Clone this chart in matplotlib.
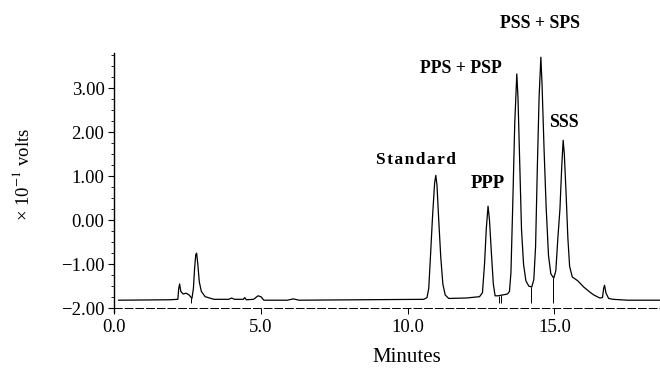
import numpy as np
import matplotlib
matplotlib.use("Agg")
import matplotlib.pyplot as plt
from matplotlib.ticker import FixedLocator, FuncFormatter

# chromatogram trace: time (min) and signal (x 10^-1 V)
time_min = [0.15, 1.9, 2.17, 2.20, 2.23, 2.27, 2.35, 2.45, 2.55, 2.65, 2.70,
            2.74, 2.78, 2.81, 2.85, 2.90, 2.97, 3.10, 3.4, 3.9, 4.0, 4.1, 4.4,
            4.45, 4.5, 4.75, 4.9, 5.0, 5.1, 5.9, 6.1, 6.3,
            10.55, 10.66, 10.72, 10.78, 10.85, 10.92, 10.96, 11.00, 11.06,
            11.13, 11.20, 11.28, 11.40, 12.0, 12.45, 12.55, 12.62, 12.68, 12.74,
            12.79, 12.85, 12.92, 12.98, 13.08, 13.4, 13.47, 13.52, 13.58, 13.65,
            13.72, 13.76, 13.82, 13.88, 13.95, 14.03, 14.13, 14.23, 14.30, 14.36,
            14.42, 14.48, 14.54, 14.58, 14.65, 14.72, 14.80, 14.88, 14.98, 15.05,
            15.12, 15.19, 15.25, 15.30, 15.34, 15.40, 15.46, 15.52, 15.61, 15.8,
            16.0, 16.2, 16.34, 16.55, 16.64, 16.68, 16.71, 16.76, 16.85, 17.0,
            17.5, 18.6]
signal = [-1.82, -1.81, -1.80, -1.55, -1.45, -1.62, -1.68, -1.66, -1.70, -1.78,
          -1.55, -1.10, -0.78, -0.75, -1.00, -1.40, -1.62, -1.74, -1.80, -1.80,
          -1.77, -1.80, -1.80, -1.76, -1.81, -1.80, -1.72, -1.74, -1.82, -1.82,
          -1.79, -1.82,
          -1.80, -1.76, -1.55, -0.80, 0.10, 0.85, 1.02, 0.80, 0.00,
          -0.85, -1.45, -1.70, -1.78, -1.77, -1.74, -1.65, -1.00, -0.20, 0.32,
          0.00, -0.70, -1.45, -1.72, -1.72, -1.68, -1.62, -1.20, 0.30, 2.20,
          3.33, 2.80, 1.30, -0.20, -1.00, -1.38, -1.50, -1.52, -1.35, -0.60,
          1.20, 2.80, 3.71, 3.10, 1.60, 0.30, -0.80, -1.22, -1.32, -1.15,
          -0.40, 0.25, 1.20, 1.82, 1.50, 0.60, -0.40, -1.05, -1.29, -1.38,
          -1.52, -1.63, -1.70, -1.77, -1.76, -1.55, -1.48, -1.66, -1.78, -1.80,
          -1.82, -1.82]

# integration drop lines (time, top of line)
drop_t = [2.62, 13.11, 13.19, 14.20, 14.97]
drop_top = [-1.77, -1.72, -1.71, -1.52, -1.32]
drop_bottom = -1.88

peak_labels = ["Standard", "PPP", "PPS + PSP", "PSS + SPS", "SSS"]
label_x = [10.3, 12.74, 11.82, 14.5, 15.34]
label_y = [1.36, 0.84, 3.45, 4.48, 2.23]

x_ticks = [0.0, 5.0, 10.0, 15.0]
y_ticks = [-2.0, -1.0, 0.0, 1.0, 2.0, 3.0]

plt.rcParams["font.family"] = ["Liberation Serif", "DejaVu Serif"]
plt.rcParams["mathtext.fontset"] = "stix"

fig = plt.figure(figsize=(6.6, 3.75), dpi=100)
ax = fig.add_axes([0.173, 0.169, 0.827, 0.689])

ax.plot(time_min, signal, color="black", lw=0.9)
ax.vlines(drop_t, drop_bottom, drop_top, color="black", lw=0.7)

ax.set_xlim(0, 18.6)
ax.set_ylim(-2.08, 3.8)

for s in ["top", "right"]:
    ax.spines[s].set_visible(False)
ax.spines["bottom"].set_position(("data", -2.0))
ax.spines["bottom"].set_linestyle((0, (8, 3)))
ax.spines["bottom"].set_linewidth(0.7)
ax.spines["left"].set_linewidth(1.0)

ax.xaxis.set_major_locator(FixedLocator(x_ticks))
ax.xaxis.set_major_formatter(FuncFormatter(lambda v, p: f"{v:.1f}"))
ax.yaxis.set_major_locator(FixedLocator(y_ticks))
ax.yaxis.set_minor_locator(FixedLocator(np.arange(-2.0, 3.8, 0.25)))
ax.yaxis.set_major_formatter(
    FuncFormatter(lambda v, p: f"{v:.2f}".replace("-", "\u2212")))
ax.tick_params(axis="x", length=4, width=0.7, labelsize=13.5, pad=4)
ax.tick_params(axis="y", which="major", length=4, width=0.8, labelsize=13.5, pad=3)
ax.tick_params(axis="y", which="minor", length=2, width=0.6)

for txt, lx, ly in zip(peak_labels, label_x, label_y):
    size = 12.8
    if txt == "Standard":
        txt = "\u200a".join(txt)
        size = 12.5
    elif txt == "PPP":
        size = 13.5
    ax.text(lx, ly, txt, ha="center", va="center", fontsize=size,
            fontweight="bold", clip_on=False)

fig.text(407 / 660, 1 - 357 / 375, "Minutes", ha="center", va="center",
         fontsize=15)
fig.text(23 / 660, 1 - 174 / 375, "\u00d7 10$^{\u22121}$ volts", rotation=90,
         ha="center", va="center", fontsize=13.5)

fig.savefig("out.png", dpi=100)
